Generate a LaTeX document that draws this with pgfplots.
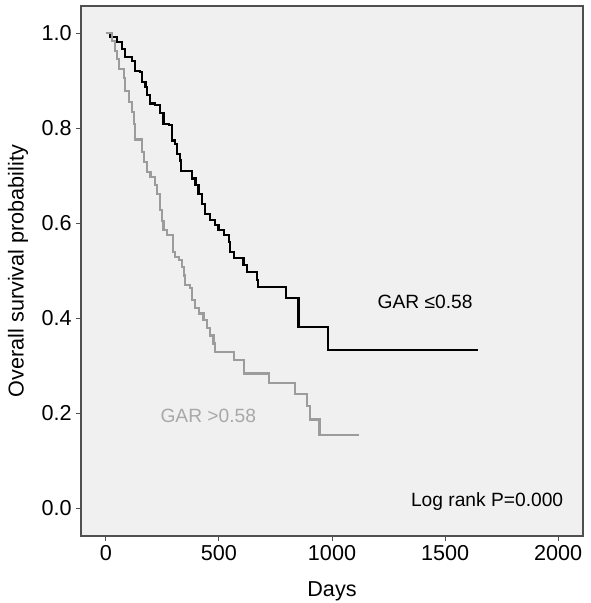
\documentclass[border=0pt]{standalone}
\usepackage{fontspec}
\setmainfont{Liberation Sans}
\usepackage{pgfplots}
\pgfplotsset{compat=1.18}
\definecolor{bg}{HTML}{F0F0F0}
\definecolor{frame}{HTML}{505050}
\definecolor{grayline}{HTML}{9C9C9C}
\definecolor{graytext}{HTML}{A8A8A8}

\begin{document}
\begin{tikzpicture}
\begin{axis}[
 scale only axis, width=251pt, height=265pt,
 xmin=-110, xmax=2110, ymin=-0.058, ymax=1.057,
 axis background/.style={fill=bg},
 axis line style={frame, line width=0.6pt},
 xtick={0,500,1000,1500,2000}, ytick={0,0.2,0.4,0.6,0.8,1.0},
 tick align=outside, tick pos=left, major tick length=2.5pt,
 tick style={frame, line width=0.5pt},
 /pgf/number format/assume math mode=true,
 yticklabel style={/pgf/number format/.cd, fixed, fixed zerofill, precision=1},
 xticklabel style={/pgf/number format/.cd, 1000 sep={}},
 ticklabel style={font=\fontsize{10.8}{13}\selectfont, inner sep=2pt},
 xlabel={Days}, ylabel={Overall survival probability},
 label style={font=\fontsize{10.8}{13}\selectfont},
 xlabel style={at={(axis description cs:0.5,-0.104)}, anchor=center},
 ylabel style={at={(axis description cs:-0.1255,0.5)}, anchor=center},
 clip=false,
]
\addplot[const plot, black, line width=1.1pt] table {
x y
0 1.000
20 0.991
49 0.981
72 0.967
86 0.949
116 0.942
130 0.921
152 0.918
160 0.897
175 0.886
182 0.869
194 0.852
219 0.849
241 0.832
255 0.809
278 0.806
293 0.774
307 0.767
315 0.746
329 0.732
332 0.710
381 0.694
396 0.680
410 0.662
425 0.641
440 0.620
462 0.606
484 0.596
498 0.586
521 0.575
543 0.561
550 0.539
565 0.526
609 0.512
624 0.497
668 0.480
671 0.466
798 0.442
852 0.382
982 0.334
1646 0.334
};
\addplot[const plot, grayline, line width=1.1pt] table {
x y
0 1.000
27 0.984
42 0.963
49 0.946
57 0.925
79 0.905
86 0.878
101 0.855
116 0.834
123 0.808
130 0.776
160 0.750
167 0.729
182 0.708
197 0.697
219 0.680
226 0.662
241 0.627
248 0.605
255 0.585
270 0.575
298 0.540
307 0.529
322 0.522
337 0.508
344 0.490
351 0.470
373 0.463
381 0.438
395 0.421
413 0.410
432 0.396
447 0.379
462 0.364
476 0.347
484 0.329
565 0.312
610 0.284
722 0.264
837 0.241
888 0.215
904 0.187
945 0.155
1120 0.155
};
\node[font=\fontsize{9.6}{11}\selectfont] at (axis cs:1412,0.434) {GAR ≤0.58};
\node[font=\fontsize{9.6}{11}\selectfont, text=graytext] at (axis cs:453,0.194) {GAR >0.58};
\node[font=\fontsize{9.6}{11}\selectfont] at (axis cs:1686,0.014) {Log rank P=0.000};
\end{axis}
\pgfresetboundingbox
\path[use as bounding box] ([xshift=-40.5pt,yshift=-33.5pt]current axis.south west) rectangle ([xshift=3.5pt,yshift=3pt]current axis.north east);
\end{tikzpicture}
\end{document}
